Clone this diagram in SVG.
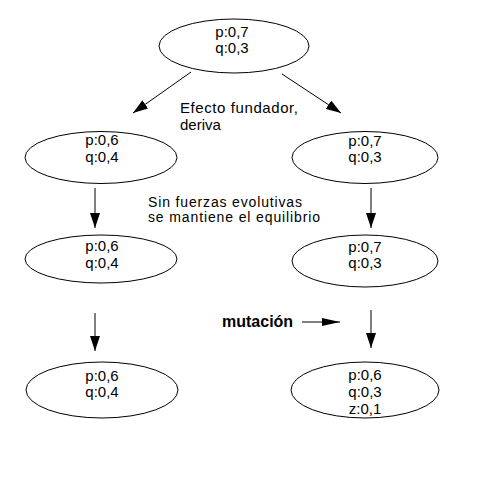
<svg xmlns="http://www.w3.org/2000/svg" width="491" height="491" viewBox="0 0 491 491">
<style>
.n ellipse{fill:#fff;stroke:#000;stroke-width:1}
text{font-family:"Liberation Sans",Arial,sans-serif;font-size:16px;fill:#000}
.n text{text-anchor:middle;font-size:15px}
.lbl{font-size:15px}
.lbl2{font-size:14px}
.b{font-weight:bold}
.e line{stroke:#000;stroke-width:1}
</style>
<defs>
<marker id="ah" markerUnits="userSpaceOnUse" markerWidth="16" markerHeight="10" refX="15" refY="5" orient="auto">
<path d="M0,0 L15,5 L0,10 z" fill="#000"/>
</marker>
<marker id="ah2" markerUnits="userSpaceOnUse" markerWidth="19" markerHeight="8" refX="18" refY="4" orient="auto">
<path d="M0,0 L18,4 L0,8 z" fill="#000"/>
</marker>
</defs>
<rect width="491" height="491" fill="#fff"/>
<g class="e" id="connectors">
<line x1="191" y1="72" x2="133" y2="113" marker-end="url(#ah)"/>
<line x1="282" y1="74" x2="341" y2="113" marker-end="url(#ah)"/>
<line x1="95" y1="188" x2="95" y2="228" marker-end="url(#ah)"/>
<line x1="371" y1="188" x2="371" y2="228" marker-end="url(#ah)"/>
<line x1="95" y1="313" x2="95" y2="351" marker-end="url(#ah)"/>
<line x1="371" y1="310" x2="371" y2="348" marker-end="url(#ah)"/>
<line x1="302" y1="322" x2="340" y2="322" marker-end="url(#ah2)"/>
</g>
<g class="n" id="n0"><ellipse cx="234" cy="46" rx="75" ry="27"/><text x="232" y="37">p:0,7</text><text x="232" y="53">q:0,3</text></g>
<g class="n" id="n1"><ellipse cx="101" cy="157.5" rx="76" ry="26"/><text x="102" y="145">p:0,6</text><text x="102" y="162">q:0,4</text></g>
<g class="n" id="n2"><ellipse cx="365" cy="157.5" rx="73" ry="26"/><text x="365" y="146">p:0,7</text><text x="365" y="162">q:0,3</text></g>
<g class="n" id="n3"><ellipse cx="101" cy="259" rx="76" ry="24"/><text x="102" y="251">p:0,6</text><text x="102" y="268">q:0,4</text></g>
<g class="n" id="n4"><ellipse cx="365" cy="261" rx="73" ry="26"/><text x="365" y="252">p:0,7</text><text x="365" y="268">q:0,3</text></g>
<g class="n" id="n5"><ellipse cx="102" cy="390" rx="76" ry="28"/><text x="102" y="381">p:0,6</text><text x="102" y="397">q:0,4</text></g>
<g class="n" id="n6"><ellipse cx="365" cy="390" rx="74" ry="28"/><text x="365" y="380">p:0,6</text><text x="365" y="397">q:0,3</text><text x="365" y="414">z:0,1</text></g>
<g id="labels">
<text class="lbl" x="180" y="113" textLength="118">Efecto fundador,</text>
<text class="lbl" x="180" y="130">deriva</text>
<text class="lbl2" x="148" y="207" textLength="154">Sin fuerzas evolutivas</text>
<text class="lbl2" x="148" y="222" textLength="172">se mantiene el equilibrio</text>
<text class="b" x="222" y="327">mutación</text>
</g>
</svg>
